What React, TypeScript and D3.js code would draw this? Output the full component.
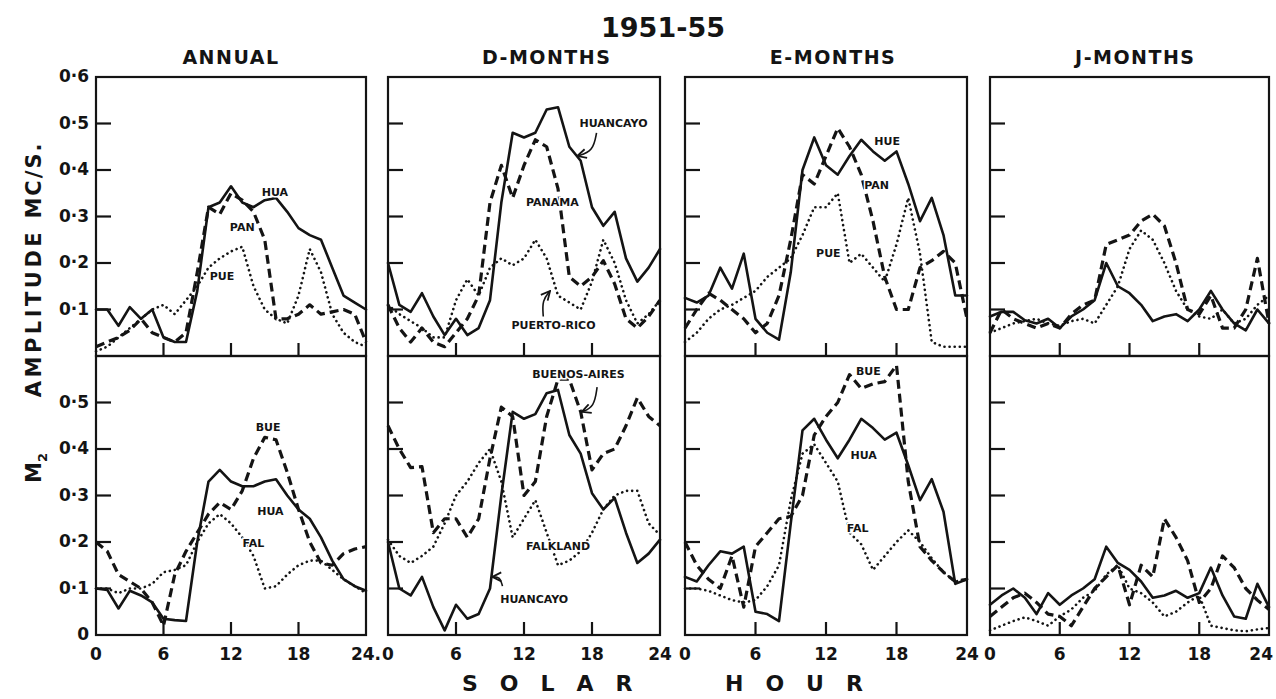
import React from "react";
import * as d3 from "d3";

// solar hour categories
const hours = [0, 1, 2, 3, 4, 5, 6, 7, 8, 9, 10, 11, 12, 13, 14, 15, 16, 17, 18, 19, 20, 21, 22, 23, 24];

const columnTitles = ["ANNUAL", "D-MONTHS", "E-MONTHS", "J-MONTHS"];
const topTickLabels = ["0·1", "0·2", "0·3", "0·4", "0·5", "0·6"];
const bottomTickLabels = ["0", "0·1", "0·2", "0·3", "0·4", "0·5"];
const yTickValues = [0.1, 0.2, 0.3, 0.4, 0.5];
const xTickValues = [6, 12, 18];
const xLabelValues = [0, 6, 12, 18, 24];

// ---- top row (Huancayo / Panama / Puerto Rico)
const annualHua = [0.1, 0.1, 0.065, 0.105, 0.08, 0.1, 0.04, 0.03, 0.03, 0.14, 0.32, 0.33, 0.365, 0.33, 0.32, 0.335, 0.34, 0.31, 0.275, 0.26, 0.25, 0.19, 0.13, 0.115, 0.1];
const annualPan = [0.02, 0.03, 0.04, 0.055, 0.08, 0.05, 0.04, 0.03, 0.05, 0.18, 0.32, 0.305, 0.35, 0.335, 0.31, 0.25, 0.08, 0.08, 0.09, 0.11, 0.09, 0.095, 0.1, 0.09, 0.03];
const annualPue = [0.01, 0.02, 0.04, 0.06, 0.08, 0.1, 0.11, 0.09, 0.12, 0.15, 0.19, 0.21, 0.225, 0.235, 0.15, 0.1, 0.08, 0.07, 0.13, 0.23, 0.18, 0.09, 0.05, 0.03, 0.02];

const dHua = [0.2, 0.11, 0.095, 0.135, 0.085, 0.045, 0.08, 0.045, 0.06, 0.12, 0.33, 0.48, 0.47, 0.48, 0.53, 0.535, 0.45, 0.42, 0.32, 0.28, 0.31, 0.21, 0.16, 0.19, 0.23];
const dPan = [0.11, 0.06, 0.03, 0.06, 0.03, 0.02, 0.05, 0.08, 0.13, 0.33, 0.41, 0.34, 0.41, 0.465, 0.45, 0.36, 0.17, 0.15, 0.17, 0.205, 0.155, 0.08, 0.06, 0.085, 0.12];
const dPue = [0.11, 0.09, 0.075, 0.06, 0.04, 0.04, 0.12, 0.165, 0.13, 0.19, 0.21, 0.195, 0.21, 0.25, 0.21, 0.13, 0.115, 0.1, 0.16, 0.25, 0.2, 0.12, 0.07, 0.09, 0.12];

const eHue = [0.125, 0.115, 0.13, 0.19, 0.145, 0.22, 0.08, 0.05, 0.035, 0.18, 0.4, 0.47, 0.41, 0.39, 0.43, 0.465, 0.44, 0.42, 0.44, 0.37, 0.29, 0.34, 0.26, 0.13, 0.13];
const ePan = [0.06, 0.1, 0.135, 0.12, 0.1, 0.08, 0.05, 0.07, 0.13, 0.25, 0.39, 0.37, 0.43, 0.49, 0.45, 0.39, 0.29, 0.17, 0.1, 0.1, 0.19, 0.205, 0.225, 0.2, 0.08];
const ePue = [0.03, 0.05, 0.08, 0.1, 0.11, 0.125, 0.14, 0.17, 0.19, 0.21, 0.26, 0.32, 0.32, 0.35, 0.2, 0.22, 0.19, 0.16, 0.24, 0.34, 0.22, 0.03, 0.02, 0.02, 0.02];

const jHua = [0.085, 0.095, 0.095, 0.077, 0.07, 0.08, 0.06, 0.085, 0.1, 0.12, 0.2, 0.15, 0.135, 0.11, 0.075, 0.085, 0.09, 0.075, 0.1, 0.14, 0.1, 0.07, 0.055, 0.1, 0.07];
const jPan = [0.05, 0.1, 0.08, 0.07, 0.06, 0.07, 0.06, 0.09, 0.11, 0.12, 0.24, 0.25, 0.26, 0.29, 0.305, 0.28, 0.2, 0.1, 0.09, 0.13, 0.06, 0.06, 0.1, 0.21, 0.07];
const jPue = [0.05, 0.06, 0.07, 0.075, 0.08, 0.07, 0.065, 0.075, 0.08, 0.07, 0.11, 0.15, 0.23, 0.27, 0.25, 0.2, 0.14, 0.1, 0.085, 0.08, 0.1, 0.07, 0.08, 0.11, 0.13];

// ---- bottom row (Huancayo / Buenos Aires / Falkland)
const annualHuaB = [0.1, 0.097, 0.057, 0.095, 0.085, 0.07, 0.035, 0.032, 0.03, 0.2, 0.33, 0.355, 0.33, 0.32, 0.32, 0.33, 0.335, 0.3, 0.27, 0.25, 0.21, 0.16, 0.12, 0.105, 0.095];
const annualBue = [0.2, 0.18, 0.13, 0.115, 0.1, 0.07, 0.02, 0.13, 0.18, 0.22, 0.26, 0.285, 0.27, 0.31, 0.38, 0.425, 0.42, 0.35, 0.27, 0.2, 0.155, 0.15, 0.175, 0.185, 0.19];
const annualFal = [0.1, 0.1, 0.09, 0.1, 0.1, 0.11, 0.135, 0.14, 0.15, 0.2, 0.24, 0.26, 0.24, 0.21, 0.17, 0.1, 0.105, 0.13, 0.15, 0.16, 0.16, 0.14, 0.12, 0.105, 0.09];

const dHuaB = [0.2, 0.1, 0.085, 0.125, 0.06, 0.01, 0.065, 0.035, 0.045, 0.1, 0.3, 0.48, 0.465, 0.475, 0.52, 0.527, 0.43, 0.39, 0.305, 0.27, 0.295, 0.22, 0.155, 0.175, 0.205];
const dBue = [0.45, 0.4, 0.36, 0.362, 0.22, 0.25, 0.25, 0.21, 0.25, 0.38, 0.49, 0.47, 0.3, 0.33, 0.47, 0.55, 0.55, 0.48, 0.355, 0.39, 0.4, 0.45, 0.51, 0.47, 0.45];
const dFal = [0.205, 0.17, 0.155, 0.17, 0.19, 0.24, 0.3, 0.33, 0.37, 0.4, 0.33, 0.21, 0.25, 0.29, 0.22, 0.15, 0.16, 0.18, 0.22, 0.27, 0.3, 0.31, 0.31, 0.24, 0.215];

const eHuaB = [0.125, 0.115, 0.15, 0.18, 0.175, 0.19, 0.05, 0.045, 0.03, 0.24, 0.44, 0.465, 0.42, 0.38, 0.42, 0.465, 0.445, 0.42, 0.435, 0.365, 0.29, 0.335, 0.265, 0.11, 0.12];
const eBue = [0.2, 0.15, 0.12, 0.1, 0.17, 0.06, 0.19, 0.22, 0.25, 0.255, 0.3, 0.43, 0.47, 0.5, 0.56, 0.53, 0.54, 0.545, 0.58, 0.33, 0.19, 0.16, 0.135, 0.115, 0.12];
const eFal = [0.1, 0.1, 0.095, 0.085, 0.075, 0.07, 0.075, 0.105, 0.15, 0.29, 0.39, 0.41, 0.37, 0.33, 0.22, 0.195, 0.14, 0.17, 0.2, 0.225, 0.2, 0.165, 0.135, 0.115, 0.12];

const jHuaB = [0.065, 0.085, 0.1, 0.08, 0.045, 0.09, 0.065, 0.085, 0.1, 0.12, 0.19, 0.155, 0.14, 0.115, 0.08, 0.085, 0.095, 0.08, 0.09, 0.145, 0.085, 0.04, 0.035, 0.11, 0.06];
const jBue = [0.04, 0.06, 0.08, 0.09, 0.07, 0.045, 0.04, 0.02, 0.06, 0.1, 0.125, 0.15, 0.065, 0.15, 0.125, 0.25, 0.21, 0.16, 0.07, 0.1, 0.17, 0.145, 0.1, 0.075, 0.055];
const jFal = [0.01, 0.02, 0.03, 0.038, 0.03, 0.02, 0.04, 0.055, 0.08, 0.095, 0.13, 0.15, 0.1, 0.09, 0.07, 0.04, 0.05, 0.07, 0.085, 0.02, 0.015, 0.01, 0.008, 0.012, 0.015];

const W = 1276;
const H = 699;
const ink = "#141414";
const font = "'DejaVu Sans', 'Liberation Sans', sans-serif";

const columns = [
  { left: 96, right: 366, titleHour: 12 },
  { left: 388, right: 660, titleHour: 14 },
  { left: 685, right: 967, titleHour: 12.6 },
  { left: 990, right: 1269, titleHour: 12.5 },
];
const rows = [
  { zero: 356, top: 77 },
  { zero: 635, top: 356 },
];

type Style = "solid" | "dashed" | "dotted";
type Panel = {
  col: number;
  row: number;
  series: { values: number[]; style: Style }[];
  labels: { text: string; h: number; v: number }[];
  arrows: [number, number][][];
};

const panels: Panel[] = [
  {
    col: 0, row: 0,
    series: [{ values: annualHua, style: "solid" }, { values: annualPan, style: "dashed" }, { values: annualPue, style: "dotted" }],
    labels: [{ text: "HUA", h: 15.9, v: 0.35 }, { text: "PAN", h: 13, v: 0.275 }, { text: "PUE", h: 11.2, v: 0.17 }],
    arrows: [],
  },
  {
    col: 1, row: 0,
    series: [{ values: dHua, style: "solid" }, { values: dPan, style: "dashed" }, { values: dPue, style: "dotted" }],
    labels: [{ text: "HUANCAYO", h: 19.9, v: 0.5 }, { text: "PANAMA", h: 14.5, v: 0.33 }, { text: "PUERTO-RICO", h: 14.6, v: 0.065 }],
    arrows: [
      [[18.4, 0.48], [18.1, 0.44], [16.7, 0.43]],
      [[13.7, 0.085], [13.6, 0.12], [14.3, 0.14]],
    ],
  },
  {
    col: 2, row: 0,
    series: [{ values: eHue, style: "solid" }, { values: ePan, style: "dashed" }, { values: ePue, style: "dotted" }],
    labels: [{ text: "HUE", h: 17.2, v: 0.46 }, { text: "PAN", h: 16.3, v: 0.365 }, { text: "PUE", h: 12.2, v: 0.22 }],
    arrows: [],
  },
  {
    col: 3, row: 0,
    series: [{ values: jHua, style: "solid" }, { values: jPan, style: "dashed" }, { values: jPue, style: "dotted" }],
    labels: [],
    arrows: [],
  },
  {
    col: 0, row: 1,
    series: [{ values: annualHuaB, style: "solid" }, { values: annualBue, style: "dashed" }, { values: annualFal, style: "dotted" }],
    labels: [{ text: "BUE", h: 15.3, v: 0.445 }, { text: "HUA", h: 15.5, v: 0.265 }, { text: "FAL", h: 14, v: 0.195 }],
    arrows: [],
  },
  {
    col: 1, row: 1,
    series: [{ values: dHuaB, style: "solid" }, { values: dBue, style: "dashed" }, { values: dFal, style: "dotted" }],
    labels: [{ text: "BUENOS-AIRES", h: 16.8, v: 0.56 }, { text: "FALKLAND", h: 15, v: 0.19 }, { text: "HUANCAYO", h: 12.9, v: 0.075 }],
    arrows: [
      [[18.45, 0.533], [18.2, 0.49], [17.1, 0.48]],
      [[10.1, 0.105], [9.9, 0.125], [9.2, 0.125]],
    ],
  },
  {
    col: 2, row: 1,
    series: [{ values: eHuaB, style: "solid" }, { values: eBue, style: "dashed" }, { values: eFal, style: "dotted" }],
    labels: [{ text: "BUE", h: 15.6, v: 0.565 }, { text: "HUA", h: 15.2, v: 0.385 }, { text: "FAL", h: 14.7, v: 0.228 }],
    arrows: [],
  },
  {
    col: 3, row: 1,
    series: [{ values: jHuaB, style: "solid" }, { values: jBue, style: "dashed" }, { values: jFal, style: "dotted" }],
    labels: [],
    arrows: [],
  },
];

const strokeFor = (s: Style) => {
  if (s === "solid") return { width: 2.6, dash: undefined, cap: "round" as const };
  if (s === "dashed") return { width: 3.2, dash: "9,5", cap: "butt" as const };
  return { width: 2.6, dash: "0.1,5", cap: "round" as const };
};

const xScale = (c: number) => d3.scaleLinear().domain([0, 24]).range([columns[c].left, columns[c].right]);
const yScale = (r: number) => d3.scaleLinear().domain([0, 0.6]).range([rows[r].zero, rows[r].top]);

export default function App() {
  return (
    <svg width={W} height={H} style={{ position: "absolute", left: 0, top: 0, background: "#fff" }} fontFamily={font}>
      <defs>
        <marker id="arr" viewBox="0 0 10 10" refX="9" refY="5" markerWidth="7" markerHeight="7" orient="auto">
          <path d="M1,1 L9,5 L1,9" fill="none" stroke={ink} strokeWidth={1.6} />
        </marker>
      </defs>
      <rect width={W} height={H} fill="#fff" />

      <text x={663} y={37} textAnchor="middle" fontSize={27} fontWeight="bold" fill={ink}>1951-55</text>

      {columns.map((c, i) => {
        const x = xScale(i);
        return (
          <text key={i} x={x(c.titleHour)} y={64} textAnchor="middle" fontSize={19} fontWeight="bold" letterSpacing={1.5} fill={ink}>
            {columnTitles[i]}
          </text>
        );
      })}

      {panels.map((p, pi) => {
        const x = xScale(p.col);
        const y = yScale(p.row);
        const line = d3.line<number>().x((_, i) => x(hours[i])).y((d) => y(d));
        const curve = d3.line<[number, number]>().x((d) => x(d[0])).y((d) => y(d[1])).curve(d3.curveBasis);
        return (
          <g key={pi}>
            <rect x={x(0)} y={y(0.6)} width={x(24) - x(0)} height={y(0) - y(0.6)} fill="none" stroke={ink} strokeWidth={2.2} />
            {yTickValues.map((t) => (
              <line key={"y" + t} x1={x(0)} x2={x(0) + 15} y1={y(t)} y2={y(t)} stroke={ink} strokeWidth={2.2} />
            ))}
            {xTickValues.map((t) => (
              <line key={"x" + t} x1={x(t)} x2={x(t)} y1={y(0)} y2={y(0) - 13} stroke={ink} strokeWidth={2.2} />
            ))}
            {p.series.map((s, si) => {
              const st = strokeFor(s.style);
              return (
                <path key={si} d={line(s.values) || ""} fill="none" stroke={ink} strokeWidth={st.width}
                  strokeDasharray={st.dash} strokeLinecap={st.cap} strokeLinejoin="round" />
              );
            })}
            {p.labels.map((l, li) => (
              <text key={li} x={x(l.h)} y={y(l.v)} textAnchor="middle" dominantBaseline="middle" fontSize={11} fontWeight="bold" fill={ink}
                stroke="#fff" strokeWidth={3} paintOrder="stroke">
                {l.text}
              </text>
            ))}
            {p.arrows.map((a, ai) => (
              <path key={ai} d={curve(a) || ""} fill="none" stroke={ink} strokeWidth={1.6} markerEnd="url(#arr)" />
            ))}
          </g>
        );
      })}

      {/* y tick labels */}
      {topTickLabels.map((t, i) => (
        <text key={"tl" + i} x={89} y={yScale(0)(yTickValues.concat([0.6])[i])} textAnchor="end" dominantBaseline="middle" fontSize={17} fontWeight="bold" fill={ink}>
          {t}
        </text>
      ))}
      {bottomTickLabels.map((t, i) => (
        <text key={"bl" + i} x={89} y={yScale(1)([0].concat(yTickValues)[i])} textAnchor="end" dominantBaseline="middle" fontSize={17} fontWeight="bold" fill={ink}>
          {t}
        </text>
      ))}

      {/* x tick labels */}
      {columns.map((c, ci) =>
        xLabelValues.map((v) => {
          const last = ci === columns.length - 1 && v === 24;
          return (
            <text key={ci + "-" + v} x={last ? 1273 : xScale(ci)(v)} y={660} textAnchor={last ? "end" : "middle"} fontSize={17} fontWeight="bold" fill={ink}>
              {ci === 0 && v === 24 ? "24." : v}
            </text>
          );
        })
      )}

      <text x={462} y={691} fontSize={22} fontWeight="bold" letterSpacing={22} fill={ink}>SOLAR</text>
      <text x={725} y={691} fontSize={22} fontWeight="bold" letterSpacing={22} fill={ink}>HOUR</text>

      {/* rotated y-axis title in three spaced parts */}
      <g fontSize={21} fontWeight="bold" fill={ink}>
        <text transform="translate(41,180) rotate(-90)" textAnchor="middle" letterSpacing={2}>MC/S.</text>
        <text transform="translate(41,313) rotate(-90)" textAnchor="middle" letterSpacing={3.5}>AMPLITUDE</text>
        <text transform="translate(41,468) rotate(-90)" textAnchor="middle">
          <tspan>M</tspan>
          <tspan fontSize={13} dy={6}>2</tspan>
        </text>
      </g>
    </svg>
  );
}
